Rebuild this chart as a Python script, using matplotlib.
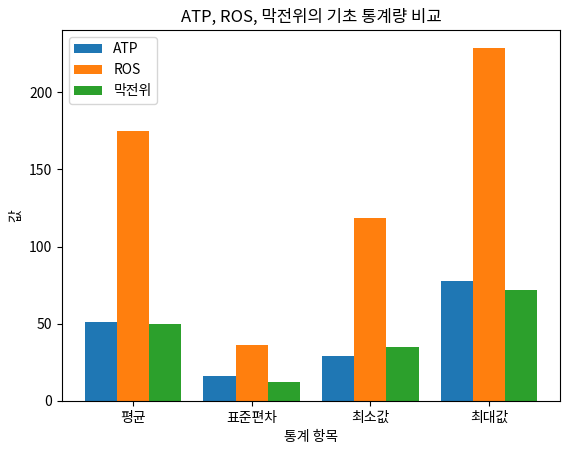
import matplotlib
matplotlib.use("Agg")
import matplotlib.pyplot as plt
import numpy as np

plt.rcParams['font.family'] = ['Noto Sans CJK KR', 'DejaVu Sans']
plt.rcParams['axes.unicode_minus'] = False

categories = ['평균', '표준편차', '최소값', '최대값']
atp = [51, 16, 29, 77.5]
ros = [175, 36.5, 118.5, 229]
mp = [50, 12, 35, 72]

fig, ax = plt.subplots(figsize=(5.68, 4.54), dpi=100)
fig.subplots_adjust(left=0.109, right=0.986, top=0.934, bottom=0.117)
x = np.arange(len(categories))
w = 0.27
ax.bar(x - w, atp, w, label='ATP')
ax.bar(x, ros, w, label='ROS')
ax.bar(x + w, mp, w, label='막전위')
ax.set_xticks(x)
ax.set_xticklabels(categories)
ax.set_xlabel('통계 항목')
ax.set_ylabel('값')
ax.set_title('ATP, ROS, 막전위의 기초 통계량 비교')
ax.legend(loc='upper left')
fig.savefig('out.png')
